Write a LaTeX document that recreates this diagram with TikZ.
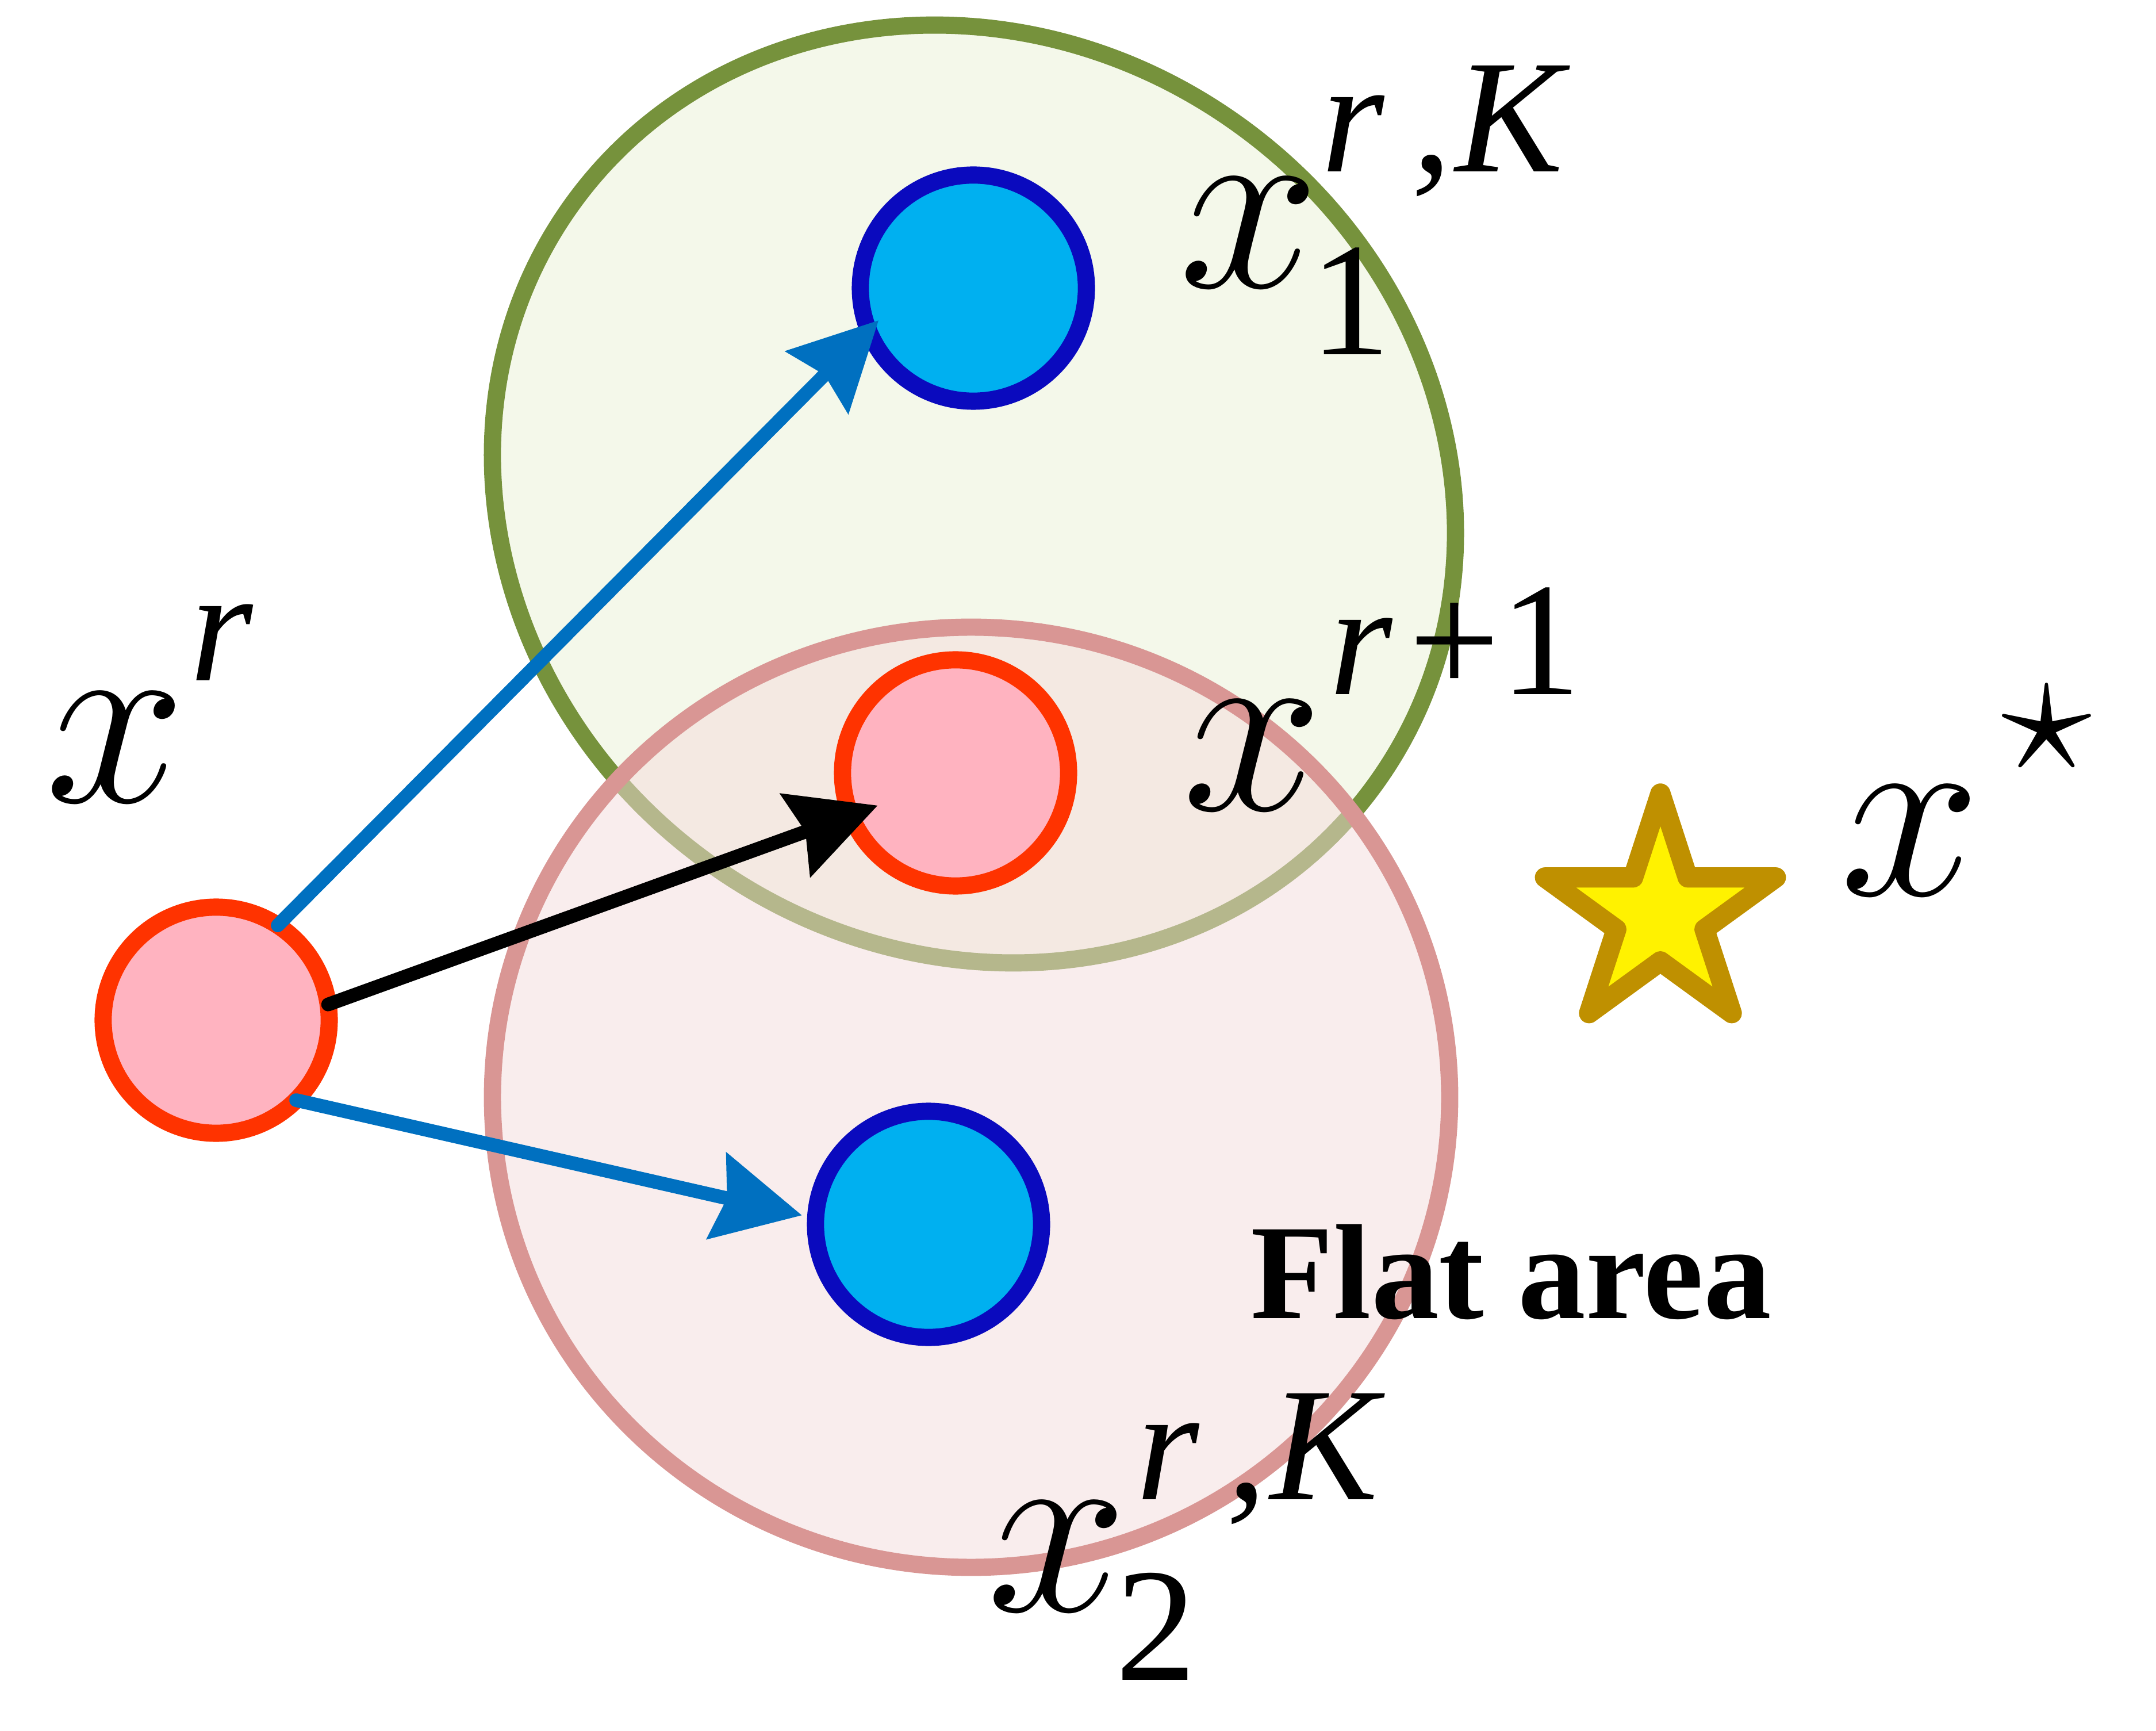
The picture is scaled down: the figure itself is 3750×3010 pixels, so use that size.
\RequirePackage{fix-cm}
\documentclass[tikz,border=0pt]{standalone}
\usepackage{fontspec}
\setmainfont{Liberation Serif}
\usetikzlibrary{positioning,shapes.geometric,arrows.meta}

\definecolor{zonegreen}{HTML}{76923C}
\definecolor{zonegreenfill}{HTML}{F4F8EA}
\definecolor{zonepink}{HTML}{D99694}
\definecolor{zonepinkfill}{HTML}{F4DCDC}
\definecolor{ptblue}{HTML}{00B0F0}
\definecolor{ptblueline}{HTML}{0A0ABE}
\definecolor{ptpink}{HTML}{FFB3C0}
\definecolor{ptred}{HTML}{FF3300}
\definecolor{stepblue}{HTML}{0070C0}
\definecolor{stargold}{HTML}{BF9000}

\begin{document}
\begin{tikzpicture}[
    x=0.01cm, y=-0.01cm,
    zone/.style={ellipse, line width=8.5pt, inner sep=0pt, outer sep=0pt},
    point/.style={circle, line width=8.5pt, minimum size=3.93cm, inner sep=0pt, outer sep=0pt},
    bluept/.style={point, draw=ptblueline, fill=ptblue},
    redpt/.style={point, draw=ptred, fill=ptpink},
    update/.style={line width=6.8pt, line cap=round, -{Stealth[length=43pt, width=43pt, inset=5pt]}},
    var/.style={font=\fontsize{125}{125}\selectfont, inner sep=0pt, anchor=base west},
    idx/.style={font=\fontsize{80}{80}\selectfont, inner sep=0pt, anchor=base west}
]
    \useasboundingbox (0,0) rectangle (3750,3010);

    % regions around the local models
    \node[zone, draw=zonegreen, fill=zonegreenfill, minimum width=17.22cm, minimum height=15.79cm, rotate=-36] (zone1) at (1694,859) {};
    \node[zone, fill=zonepinkfill, fill opacity=0.5, minimum width=16.64cm, minimum height=16.34cm] (zone2) at (1689,1908) {};
    \node[zone, draw=zonepink, minimum width=16.64cm, minimum height=16.34cm] at (zone2) {};

    % iterates
    \node[redpt] (xr) at (376,1774) {};
    \node[bluept] (x1) at (1693,501) {};
    \node[redpt] (xnext) at (1662,1344) {};
    \node[bluept] (x2) at (1615,2129) {};
    \node[star, star points=5, star point ratio=2.618, minimum size=4.22cm, inner sep=0pt,
          draw=stargold, fill=yellow, line width=10pt, line join=round] (opt) at (2888,1591) {};

    \draw[update, draw=stepblue] (xr.57.5) -- (x1.202.8) [shorten >=-7.1pt];
    \draw[update, draw=black] (xr.8.1) -- (xnext.202.6) [shorten >=-14.2pt];
    \draw[update, draw=stepblue] (xr.-45) -- (x2.177.5) [shorten >=6.9pt];

    % labels
    \node[var] (lxr) at (78,1395) {$x$};
    \node[idx] at (330,1184) {\itshape r};

    \node[var] (lx1) at (2050,500) {$x$};
    \node[idx] at (2298,299) {\itshape r\kern0.17em,\kern0.02em K};
    \node[idx] at (2278,617) {1};

    \node[var] (lxnext) at (2056,1409) {$x$};
    \node[idx] at (2312,1208) {{\itshape r}\kern0.1em+1};

    \node[var] (lopt) at (3200,1557) {$x$};
    \node[inner sep=0pt, anchor=base west, font=\fontsize{90}{90}\selectfont] at (3482,1341) {$\star$};

    \node[var] (lx2) at (1716,2801) {$x$};
    \node[idx] at (1976,2607) {\itshape r\kern0.17em,\kern0.02em K};
    \node[idx] at (1940,2921) {2};

    \node[inner sep=0pt, anchor=base west, font=\fontsize{67}{67}\selectfont\bfseries] (flat) at (2175,2292) {Flat area};
\end{tikzpicture}
\end{document}
